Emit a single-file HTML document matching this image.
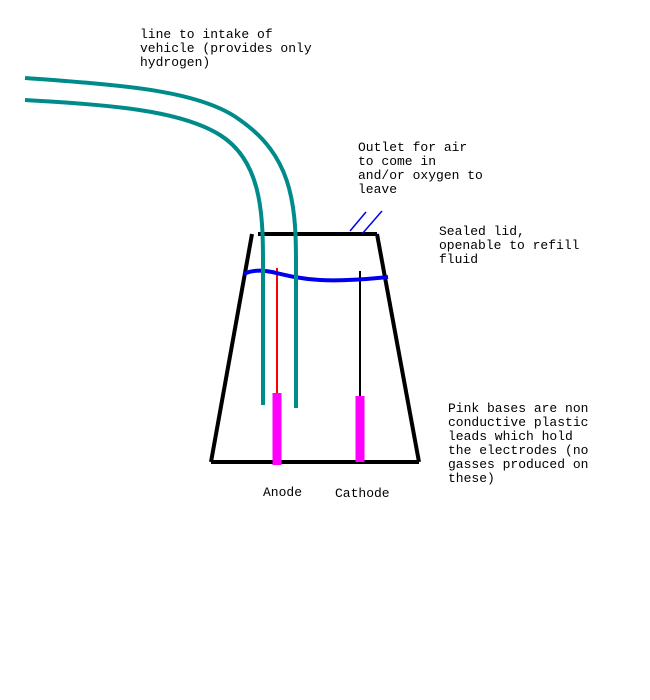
<!DOCTYPE html>
<html><head><style>body{margin:0;background:#fff}svg{display:block}</style></head><body>
<svg width="650" height="700" xmlns="http://www.w3.org/2000/svg">
<rect width="650" height="700" fill="#fff"/>
<g font-family="Liberation Mono, monospace" font-size="13" fill="#000">
<text x="140" y="38">line to intake of</text>
<text x="140" y="52">vehicle (provides only</text>
<text x="140" y="66">hydrogen)</text>
<text x="358" y="151">Outlet for air</text>
<text x="358" y="165">to come in</text>
<text x="358" y="179">and/or oxygen to</text>
<text x="358" y="193">leave</text>
<text x="439" y="235">Sealed lid,</text>
<text x="439" y="249">openable to refill</text>
<text x="439" y="263">fluid</text>
<text x="448" y="412">Pink bases are non</text>
<text x="448" y="426">conductive plastic</text>
<text x="448" y="440">leads which hold</text>
<text x="448" y="454">the electrodes (no</text>
<text x="448" y="468">gasses produced on</text>
<text x="448" y="482">these)</text>
<text x="263" y="496">Anode</text>
<text x="335" y="497">Cathode</text>
</g>
<g stroke="#000" stroke-width="4" fill="none">
<line x1="252" y1="234" x2="211" y2="462"/>
<line x1="258" y1="234" x2="377" y2="234"/>
<line x1="377" y1="234" x2="419" y2="462"/>
<line x1="211" y1="462" x2="419" y2="462"/>
</g>
<line x1="360" y1="271" x2="360" y2="397" stroke="#000" stroke-width="2"/>
<line x1="277" y1="268" x2="277" y2="393" stroke="#f00" stroke-width="2"/>
<path d="M244,274 C252,270 262,270 272,272 C285,275 300,279 320,280 C340,281 360,280 388,277" stroke="#0000f0" stroke-width="4" fill="none"/>
<g stroke="#0000f0" stroke-width="1.5">
<line x1="350" y1="231" x2="366" y2="212"/>
<line x1="362" y1="234" x2="382" y2="211"/>
</g>
<g stroke="#008b8b" stroke-width="4" fill="none">
<path d="M25,78 C120,85 200,90 240,120 C290,155 296,200 296,260 L296,408"/>
<path d="M25,100 C110,105 180,110 220,135 C260,160 263,210 263,260 L263,405"/>
</g>
<g stroke="#ff00ff" stroke-width="9">
<line x1="277" y1="393" x2="277" y2="465"/>
<line x1="360" y1="396" x2="360" y2="462"/>
</g>
</svg>
</body></html>
